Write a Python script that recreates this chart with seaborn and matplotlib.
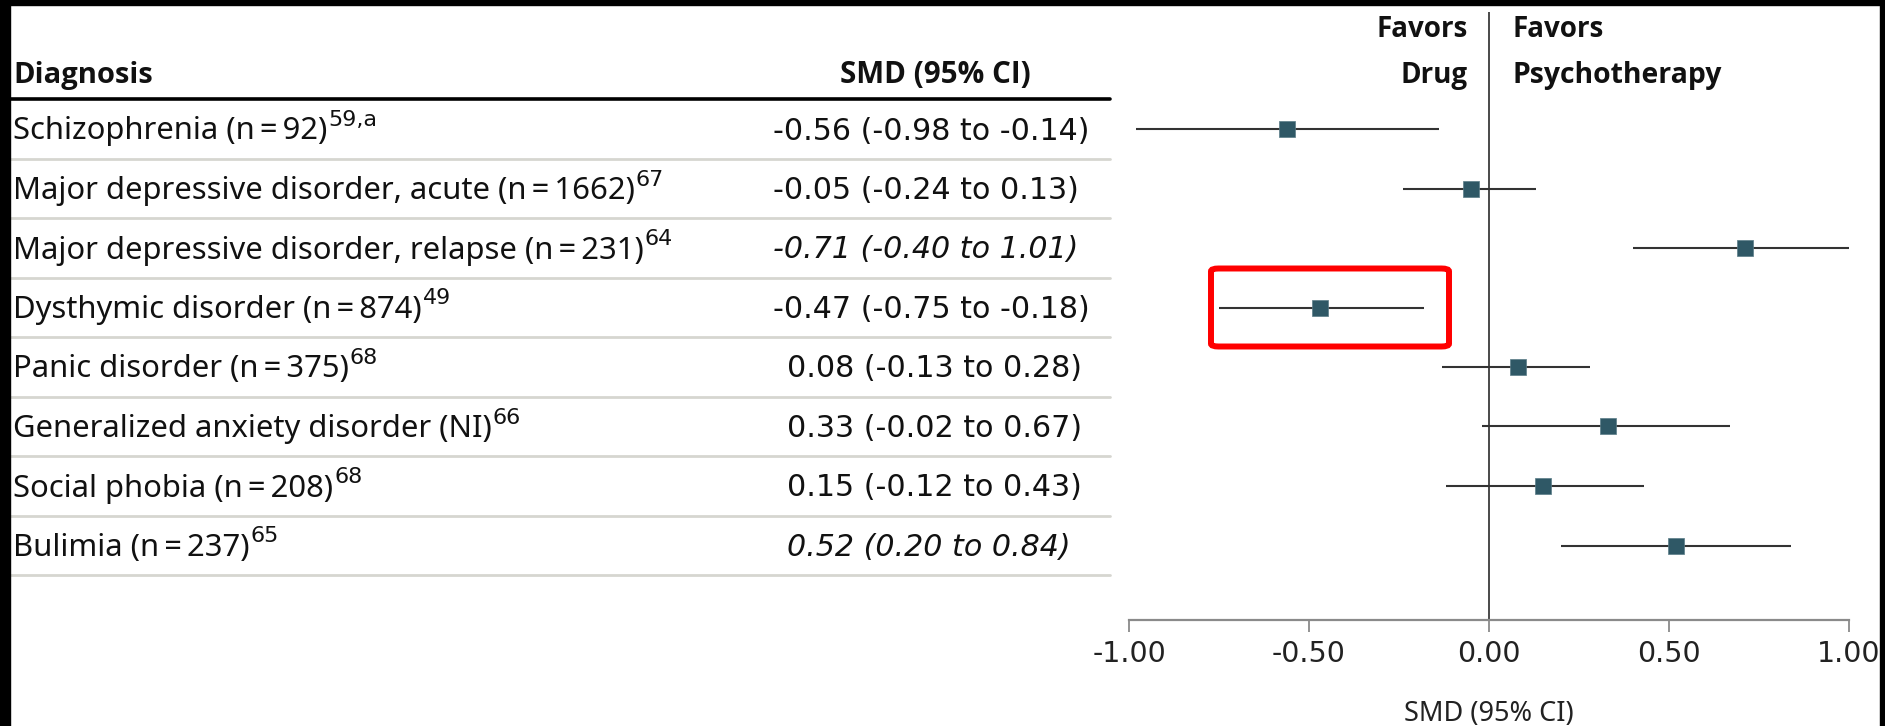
import matplotlib
matplotlib.use("Agg")
import matplotlib.pyplot as plt
import seaborn as sns
import pandas as pd
from matplotlib.patches import Rectangle, FancyBboxPatch
from matplotlib.lines import Line2D

# ---------------- data ----------------
diagnoses = [
    "Schizophrenia (n\u2009=\u200992)",
    "Major depressive disorder, acute (n\u2009=\u20091662)",
    "Major depressive disorder, relapse (n\u2009=\u2009231)",
    "Dysthymic disorder (n\u2009=\u2009874)",
    "Panic disorder (n\u2009=\u2009375)",
    "Generalized anxiety disorder (NI)",
    "Social phobia (n\u2009=\u2009208)",
    "Bulimia (n\u2009=\u2009237)",
]
superscripts = ["59,a", "67", "64", "49", "68", "66", "68", "65"]
ci_labels = [
    "-0.56 (-0.98 to -0.14)",
    "-0.05 (-0.24 to 0.13)",
    "-0.71 (-0.40 to 1.01)",
    "-0.47 (-0.75 to -0.18)",
    "0.08 (-0.13 to 0.28)",
    "0.33 (-0.02 to 0.67)",
    "0.15 (-0.12 to 0.43)",
    "0.52 (0.20 to 0.84)",
]
italic_rows = [False, False, True, False, False, False, False, True]
smd = [-0.56, -0.05, 0.71, -0.47, 0.08, 0.33, 0.15, 0.52]
ci_low = [-0.98, -0.24, 0.40, -0.75, -0.13, -0.02, -0.12, 0.20]
ci_high = [-0.14, 0.13, 1.01, -0.18, 0.28, 0.67, 0.43, 0.84]
x_ticks = [-1.0, -0.5, 0.0, 0.5, 1.0]
x_tick_labels = ["-1.00", "-0.50", "0.00", "0.50", "1.00"]
highlight_row = 3

# ---------------- style ----------------
sns.set_theme(style="white")
plt.rcParams["font.family"] = ["Noto Sans", "DejaVu Sans"]
plt.rcParams["axes.unicode_minus"] = False

BOLD = ["Open Sans", "DejaVu Sans"]
W, H, DPI = 1885, 726, 100
fig = plt.figure(figsize=(W / DPI, H / DPI), dpi=DPI)
fig.patch.set_facecolor("white")


def fx(x):
    return x / W


def fy(y):
    return 1 - y / H


# row geometry in pixels (top-left origin)
row0, row_step = 129.0, 59.5
ax_top, ax_bottom = 12, 620
ax_left, ax_right = 1129, 1849

ax = fig.add_axes([fx(ax_left), fy(ax_bottom), fx(ax_right) - fx(ax_left),
                   fy(ax_top) - fy(ax_bottom)])
ax.set_facecolor("none")

df = pd.DataFrame({"row": list(range(len(smd))), "smd": smd,
                   "lo": ci_low, "hi": ci_high})

ax.axvline(0, color="#4a4a4a", lw=1.4, zorder=1)
ax.hlines(df["row"], df["lo"], df["hi"], color="#333333", lw=1.5, zorder=2)
sns.scatterplot(data=df, x="smd", y="row", marker="s", s=140, color="#2f5866",
                edgecolor="#5b7c87", linewidth=0.5, ax=ax, legend=False, zorder=3)

ax.set_xlim(-1, 1)
ylo = (ax_top - row0) / row_step
yhi = (ax_bottom - row0) / row_step
ax.set_ylim(yhi, ylo)
ax.set_yticks([])
ax.set_ylabel("")
for s in ["top", "left", "right"]:
    ax.spines[s].set_visible(False)
ax.spines["bottom"].set_color("#8a8a8a")
ax.spines["bottom"].set_linewidth(1.6)
ax.set_xticks(x_ticks)
ax.set_xticklabels(x_tick_labels, fontfamily="DejaVu Sans", fontsize=20.5,
                   color="#222222")
ax.tick_params(axis="x", direction="out", length=8.5, width=1.3,
               color="#8a8a8a", pad=6, bottom=True)
ax.set_xlabel("SMD (95% CI)", fontsize=19.5, color="#222222", labelpad=23)

# ---------------- table ----------------
fs = 22.3
line_x0, line_x1 = 10, 1110
fig.add_artist(Line2D([fx(line_x0), fx(line_x1)], [fy(99), fy(99)],
                      transform=fig.transFigure, color="black", lw=2.6))
for i in range(len(diagnoses)):
    ysep = row0 + row_step * i + row_step / 2
    fig.add_artist(Line2D([fx(line_x0), fx(line_x1)], [fy(ysep), fy(ysep)],
                          transform=fig.transFigure, color="#d6d6d0", lw=2.0))

fig.text(fx(13), fy(83), "Diagnosis", fontsize=21, fontweight="bold",
         family=BOLD, ha="left", va="baseline", color="#111111")
fig.text(fx(935), fy(83), "SMD (95% CI)", fontsize=21.3, fontweight="bold",
         family=BOLD, ha="center", va="baseline", color="#111111")

fig.text(fx(1468), fy(37), "Favors", fontsize=20, fontweight="bold",
         family=BOLD, ha="right", va="baseline", color="#111111")
fig.text(fx(1468), fy(83), "Drug", fontsize=20, fontweight="bold",
         family=BOLD, ha="right", va="baseline", color="#111111")
fig.text(fx(1512), fy(37), "Favors", fontsize=20, fontweight="bold",
         family=BOLD, ha="left", va="baseline", color="#111111")
fig.text(fx(1512), fy(83), "Psychotherapy", fontsize=20.4, fontweight="bold",
         family=BOLD, ha="left", va="baseline", color="#111111")

renderer = fig.canvas.get_renderer()
name_texts = []
for i, (name, lab) in enumerate(zip(diagnoses, ci_labels)):
    yb = row0 + row_step * i + 10.5
    t = fig.text(fx(13), fy(yb), name, fontsize=fs, ha="left", va="baseline",
                 color="#111111")
    name_texts.append((t, yb))
    xstart = 773 if lab.startswith("-") else 787
    fig.text(fx(xstart), fy(yb), lab, fontsize=21.7, family="DejaVu Sans",
             ha="left", va="baseline", color="#111111",
             style="italic" if italic_rows[i] else "normal")

for (t, yb), sup in zip(name_texts, superscripts):
    bb = t.get_window_extent(renderer=renderer)
    fig.text(fx(bb.x1 + 1), fy(yb - 13.5), sup, fontsize=16,
             family="DejaVu Sans", ha="left", va="baseline", color="#111111")

# highlight box around the dysthymic disorder estimate
yc = row0 + row_step * highlight_row
box = FancyBboxPatch((fx(1211), fy(yc + 39)), fx(1449) - fx(1211),
                     fy(yc - 39) - fy(yc + 39),
                     boxstyle="round,pad=0,rounding_size=0.004",
                     transform=fig.transFigure, fill=False,
                     edgecolor="#ff0000", lw=4.3, zorder=10)
fig.patches.append(box)

# black frame edges from the reference
for (x0, y0, w, h) in [(0, 0, 10, H), (0, 0, W, 5), (1880, 0, 5, H)]:
    fig.patches.append(Rectangle((fx(x0), fy(y0 + h)), w / W, h / H,
                                 transform=fig.transFigure, color="black",
                                 zorder=20))

fig.savefig("out.png", dpi=DPI, facecolor="white")
